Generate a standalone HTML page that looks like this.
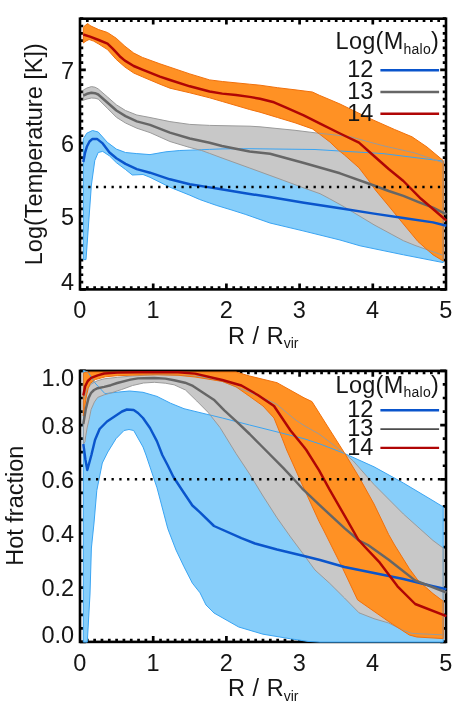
<!DOCTYPE html>
<html><head><meta charset="utf-8"><title>Halo profiles</title>
<style>html,body{margin:0;padding:0;background:#fff}body{width:458px;height:704px;overflow:hidden;font-family:"Liberation Sans",sans-serif}svg{display:block;filter:blur(0.6px)}</style></head>
<body>
<svg width="458" height="704" viewBox="0 0 458 704" font-family="'Liberation Sans', sans-serif" fill="#151515">
<rect width="458" height="704" fill="#fff"/>
<rect x="80.0" y="18.7" width="366.0" height="270.7" fill="none" stroke="#000" stroke-width="2.6"/>
<path d="M153.20,289.4v-5.8M153.20,18.7v5.8" stroke="#000" stroke-width="2.7"/>
<path d="M226.40,289.4v-5.8M226.40,18.7v5.8" stroke="#000" stroke-width="2.7"/>
<path d="M299.60,289.4v-5.8M299.60,18.7v5.8" stroke="#000" stroke-width="2.7"/>
<path d="M372.80,289.4v-5.8M372.80,18.7v5.8" stroke="#000" stroke-width="2.7"/>
<path d="M87.32,289.4v-3.25M87.32,18.7v3.25" stroke="#000" stroke-width="2.7"/>
<path d="M94.64,289.4v-3.25M94.64,18.7v3.25" stroke="#000" stroke-width="2.7"/>
<path d="M101.96,289.4v-3.25M101.96,18.7v3.25" stroke="#000" stroke-width="2.7"/>
<path d="M109.28,289.4v-3.25M109.28,18.7v3.25" stroke="#000" stroke-width="2.7"/>
<path d="M116.60,289.4v-3.25M116.60,18.7v3.25" stroke="#000" stroke-width="2.7"/>
<path d="M123.92,289.4v-3.25M123.92,18.7v3.25" stroke="#000" stroke-width="2.7"/>
<path d="M131.24,289.4v-3.25M131.24,18.7v3.25" stroke="#000" stroke-width="2.7"/>
<path d="M138.56,289.4v-3.25M138.56,18.7v3.25" stroke="#000" stroke-width="2.7"/>
<path d="M145.88,289.4v-3.25M145.88,18.7v3.25" stroke="#000" stroke-width="2.7"/>
<path d="M160.52,289.4v-3.25M160.52,18.7v3.25" stroke="#000" stroke-width="2.7"/>
<path d="M167.84,289.4v-3.25M167.84,18.7v3.25" stroke="#000" stroke-width="2.7"/>
<path d="M175.16,289.4v-3.25M175.16,18.7v3.25" stroke="#000" stroke-width="2.7"/>
<path d="M182.48,289.4v-3.25M182.48,18.7v3.25" stroke="#000" stroke-width="2.7"/>
<path d="M189.80,289.4v-3.25M189.80,18.7v3.25" stroke="#000" stroke-width="2.7"/>
<path d="M197.12,289.4v-3.25M197.12,18.7v3.25" stroke="#000" stroke-width="2.7"/>
<path d="M204.44,289.4v-3.25M204.44,18.7v3.25" stroke="#000" stroke-width="2.7"/>
<path d="M211.76,289.4v-3.25M211.76,18.7v3.25" stroke="#000" stroke-width="2.7"/>
<path d="M219.08,289.4v-3.25M219.08,18.7v3.25" stroke="#000" stroke-width="2.7"/>
<path d="M233.72,289.4v-3.25M233.72,18.7v3.25" stroke="#000" stroke-width="2.7"/>
<path d="M241.04,289.4v-3.25M241.04,18.7v3.25" stroke="#000" stroke-width="2.7"/>
<path d="M248.36,289.4v-3.25M248.36,18.7v3.25" stroke="#000" stroke-width="2.7"/>
<path d="M255.68,289.4v-3.25M255.68,18.7v3.25" stroke="#000" stroke-width="2.7"/>
<path d="M263.00,289.4v-3.25M263.00,18.7v3.25" stroke="#000" stroke-width="2.7"/>
<path d="M270.32,289.4v-3.25M270.32,18.7v3.25" stroke="#000" stroke-width="2.7"/>
<path d="M277.64,289.4v-3.25M277.64,18.7v3.25" stroke="#000" stroke-width="2.7"/>
<path d="M284.96,289.4v-3.25M284.96,18.7v3.25" stroke="#000" stroke-width="2.7"/>
<path d="M292.28,289.4v-3.25M292.28,18.7v3.25" stroke="#000" stroke-width="2.7"/>
<path d="M306.92,289.4v-3.25M306.92,18.7v3.25" stroke="#000" stroke-width="2.7"/>
<path d="M314.24,289.4v-3.25M314.24,18.7v3.25" stroke="#000" stroke-width="2.7"/>
<path d="M321.56,289.4v-3.25M321.56,18.7v3.25" stroke="#000" stroke-width="2.7"/>
<path d="M328.88,289.4v-3.25M328.88,18.7v3.25" stroke="#000" stroke-width="2.7"/>
<path d="M336.20,289.4v-3.25M336.20,18.7v3.25" stroke="#000" stroke-width="2.7"/>
<path d="M343.52,289.4v-3.25M343.52,18.7v3.25" stroke="#000" stroke-width="2.7"/>
<path d="M350.84,289.4v-3.25M350.84,18.7v3.25" stroke="#000" stroke-width="2.7"/>
<path d="M358.16,289.4v-3.25M358.16,18.7v3.25" stroke="#000" stroke-width="2.7"/>
<path d="M365.48,289.4v-3.25M365.48,18.7v3.25" stroke="#000" stroke-width="2.7"/>
<path d="M380.12,289.4v-3.25M380.12,18.7v3.25" stroke="#000" stroke-width="2.7"/>
<path d="M387.44,289.4v-3.25M387.44,18.7v3.25" stroke="#000" stroke-width="2.7"/>
<path d="M394.76,289.4v-3.25M394.76,18.7v3.25" stroke="#000" stroke-width="2.7"/>
<path d="M402.08,289.4v-3.25M402.08,18.7v3.25" stroke="#000" stroke-width="2.7"/>
<path d="M409.40,289.4v-3.25M409.40,18.7v3.25" stroke="#000" stroke-width="2.7"/>
<path d="M416.72,289.4v-3.25M416.72,18.7v3.25" stroke="#000" stroke-width="2.7"/>
<path d="M424.04,289.4v-3.25M424.04,18.7v3.25" stroke="#000" stroke-width="2.7"/>
<path d="M431.36,289.4v-3.25M431.36,18.7v3.25" stroke="#000" stroke-width="2.7"/>
<path d="M438.68,289.4v-3.25M438.68,18.7v3.25" stroke="#000" stroke-width="2.7"/>
<path d="M80.0,289.40h5.8M446.0,289.40h-5.8" stroke="#000" stroke-width="2.7"/>
<path d="M80.0,216.24h5.8M446.0,216.24h-5.8" stroke="#000" stroke-width="2.7"/>
<path d="M80.0,143.08h5.8M446.0,143.08h-5.8" stroke="#000" stroke-width="2.7"/>
<path d="M80.0,69.91h5.8M446.0,69.91h-5.8" stroke="#000" stroke-width="2.7"/>
<path d="M80.0,282.08h3.25M446.0,282.08h-3.25" stroke="#000" stroke-width="2.7"/>
<path d="M80.0,274.77h3.25M446.0,274.77h-3.25" stroke="#000" stroke-width="2.7"/>
<path d="M80.0,267.45h3.25M446.0,267.45h-3.25" stroke="#000" stroke-width="2.7"/>
<path d="M80.0,260.14h3.25M446.0,260.14h-3.25" stroke="#000" stroke-width="2.7"/>
<path d="M80.0,252.82h3.25M446.0,252.82h-3.25" stroke="#000" stroke-width="2.7"/>
<path d="M80.0,245.50h3.25M446.0,245.50h-3.25" stroke="#000" stroke-width="2.7"/>
<path d="M80.0,238.19h3.25M446.0,238.19h-3.25" stroke="#000" stroke-width="2.7"/>
<path d="M80.0,230.87h3.25M446.0,230.87h-3.25" stroke="#000" stroke-width="2.7"/>
<path d="M80.0,223.55h3.25M446.0,223.55h-3.25" stroke="#000" stroke-width="2.7"/>
<path d="M80.0,208.92h3.25M446.0,208.92h-3.25" stroke="#000" stroke-width="2.7"/>
<path d="M80.0,201.61h3.25M446.0,201.61h-3.25" stroke="#000" stroke-width="2.7"/>
<path d="M80.0,194.29h3.25M446.0,194.29h-3.25" stroke="#000" stroke-width="2.7"/>
<path d="M80.0,186.97h3.25M446.0,186.97h-3.25" stroke="#000" stroke-width="2.7"/>
<path d="M80.0,179.66h3.25M446.0,179.66h-3.25" stroke="#000" stroke-width="2.7"/>
<path d="M80.0,172.34h3.25M446.0,172.34h-3.25" stroke="#000" stroke-width="2.7"/>
<path d="M80.0,165.02h3.25M446.0,165.02h-3.25" stroke="#000" stroke-width="2.7"/>
<path d="M80.0,157.71h3.25M446.0,157.71h-3.25" stroke="#000" stroke-width="2.7"/>
<path d="M80.0,150.39h3.25M446.0,150.39h-3.25" stroke="#000" stroke-width="2.7"/>
<path d="M80.0,135.76h3.25M446.0,135.76h-3.25" stroke="#000" stroke-width="2.7"/>
<path d="M80.0,128.44h3.25M446.0,128.44h-3.25" stroke="#000" stroke-width="2.7"/>
<path d="M80.0,121.13h3.25M446.0,121.13h-3.25" stroke="#000" stroke-width="2.7"/>
<path d="M80.0,113.81h3.25M446.0,113.81h-3.25" stroke="#000" stroke-width="2.7"/>
<path d="M80.0,106.49h3.25M446.0,106.49h-3.25" stroke="#000" stroke-width="2.7"/>
<path d="M80.0,99.18h3.25M446.0,99.18h-3.25" stroke="#000" stroke-width="2.7"/>
<path d="M80.0,91.86h3.25M446.0,91.86h-3.25" stroke="#000" stroke-width="2.7"/>
<path d="M80.0,84.55h3.25M446.0,84.55h-3.25" stroke="#000" stroke-width="2.7"/>
<path d="M80.0,77.23h3.25M446.0,77.23h-3.25" stroke="#000" stroke-width="2.7"/>
<path d="M80.0,62.60h3.25M446.0,62.60h-3.25" stroke="#000" stroke-width="2.7"/>
<path d="M80.0,55.28h3.25M446.0,55.28h-3.25" stroke="#000" stroke-width="2.7"/>
<path d="M80.0,47.96h3.25M446.0,47.96h-3.25" stroke="#000" stroke-width="2.7"/>
<path d="M80.0,40.65h3.25M446.0,40.65h-3.25" stroke="#000" stroke-width="2.7"/>
<path d="M80.0,33.33h3.25M446.0,33.33h-3.25" stroke="#000" stroke-width="2.7"/>
<path d="M80.0,26.02h3.25M446.0,26.02h-3.25" stroke="#000" stroke-width="2.7"/>
<path d="M80.0,18.70h3.25M446.0,18.70h-3.25" stroke="#000" stroke-width="2.7"/>
<clipPath id="c1"><rect x="80.0" y="17.4" width="367.3" height="273.3"/></clipPath>
<g clip-path="url(#c1)">
<polygon points="83.3,138.9 86.8,133.2 92.5,130.5 98.2,132.0 107.3,142.3 116.4,149.1 125.5,152.5 136.8,153.6 150.0,154.6 165.9,151.8 179.8,150.5 201.7,149.7 209.6,149.4 222.0,148.9 250.0,148.7 315.0,149.5 383.0,153.6 443.2,161.1 443.2,262.6 403.4,254.8 360.0,245.8 340.0,240.0 304.0,231.1 270.0,223.0 245.2,214.3 231.0,209.8 216.8,205.5 209.6,203.0 199.7,199.5 189.8,195.2 169.9,187.2 150.0,177.3 143.0,174.5 132.3,175.0 125.5,169.5 116.4,162.7 109.5,155.9 102.7,151.4 98.2,152.5 94.8,160.5 91.4,185.0 88.5,225.0 86.0,259.6 83.3,259.6" fill="#87cefa"/>
<polygon points="83.3,90.0 87.0,88.0 91.4,86.6 95.0,87.2 98.2,88.9 107.3,96.8 116.4,104.8 125.5,110.5 136.8,115.0 150.0,117.5 169.9,121.6 189.8,124.4 209.6,125.4 250.0,126.2 260.0,126.8 295.0,130.3 315.9,132.9 340.0,135.5 350.4,136.8 383.0,145.7 415.0,153.0 443.2,162.8 443.2,255.4 415.0,245.4 403.4,240.7 374.0,224.8 344.5,207.0 329.7,198.8 320.0,193.7 304.0,188.0 277.0,178.0 249.6,168.0 222.0,158.0 209.6,153.4 201.7,150.5 189.8,147.5 169.9,141.5 150.0,132.6 136.8,128.2 125.5,123.0 116.4,117.3 107.3,108.2 98.2,99.1 95.0,98.2 91.4,98.0 87.0,99.0 83.3,100.2" fill="#c8c8c8"/>
<polygon points="83.3,27.5 85.5,25.0 88.0,23.6 90.0,25.6 98.7,29.6 107.5,32.5 116.2,38.2 124.9,46.2 133.7,53.0 142.4,57.4 159.9,63.8 170.0,67.2 189.8,73.9 209.6,79.9 222.3,81.5 249.6,84.2 260.0,85.2 277.5,87.7 295.0,89.8 312.4,92.0 319.4,95.3 329.9,99.7 340.0,104.0 368.0,117.7 394.6,129.5 412.0,136.8 427.0,147.0 443.2,160.5 443.2,260.9 433.0,254.8 418.0,241.6 403.4,224.0 388.7,206.0 375.4,190.0 368.0,179.6 359.0,167.8 344.5,155.0 338.6,150.3 329.9,142.0 319.4,134.0 312.4,128.9 295.0,122.8 277.5,117.5 260.0,112.2 249.6,109.5 222.3,101.5 209.6,97.8 189.8,92.8 170.0,88.2 159.9,84.2 142.4,76.8 133.7,73.0 124.9,67.0 116.2,59.4 107.5,49.6 98.7,44.0 93.6,41.1 89.1,39.5 86.0,41.0 83.3,43.0" fill="#ff9124"/>
<polygon points="83.3,138.9 86.8,133.2 92.5,130.5 98.2,132.0 107.3,142.3 116.4,149.1 125.5,152.5 136.8,153.6 150.0,154.6 165.9,151.8 179.8,150.5 201.7,149.7 209.6,149.4 222.0,148.9 250.0,148.7 315.0,149.5 383.0,153.6 443.2,161.1 443.2,262.6 403.4,254.8 360.0,245.8 340.0,240.0 304.0,231.1 270.0,223.0 245.2,214.3 231.0,209.8 216.8,205.5 209.6,203.0 199.7,199.5 189.8,195.2 169.9,187.2 150.0,177.3 143.0,174.5 132.3,175.0 125.5,169.5 116.4,162.7 109.5,155.9 102.7,151.4 98.2,152.5 94.8,160.5 91.4,185.0 88.5,225.0 86.0,259.6 83.3,259.6" fill="none" stroke="#3aa4f2" stroke-width="1.0" stroke-linejoin="round"/>
<polygon points="83.3,90.0 87.0,88.0 91.4,86.6 95.0,87.2 98.2,88.9 107.3,96.8 116.4,104.8 125.5,110.5 136.8,115.0 150.0,117.5 169.9,121.6 189.8,124.4 209.6,125.4 250.0,126.2 260.0,126.8 295.0,130.3 315.9,132.9 340.0,135.5 350.4,136.8 383.0,145.7 415.0,153.0 443.2,162.8 443.2,255.4 415.0,245.4 403.4,240.7 374.0,224.8 344.5,207.0 329.7,198.8 320.0,193.7 304.0,188.0 277.0,178.0 249.6,168.0 222.0,158.0 209.6,153.4 201.7,150.5 189.8,147.5 169.9,141.5 150.0,132.6 136.8,128.2 125.5,123.0 116.4,117.3 107.3,108.2 98.2,99.1 95.0,98.2 91.4,98.0 87.0,99.0 83.3,100.2" fill="none" stroke="#9a9a9a" stroke-width="1.0" stroke-linejoin="round"/>
<polygon points="83.3,27.5 85.5,25.0 88.0,23.6 90.0,25.6 98.7,29.6 107.5,32.5 116.2,38.2 124.9,46.2 133.7,53.0 142.4,57.4 159.9,63.8 170.0,67.2 189.8,73.9 209.6,79.9 222.3,81.5 249.6,84.2 260.0,85.2 277.5,87.7 295.0,89.8 312.4,92.0 319.4,95.3 329.9,99.7 340.0,104.0 368.0,117.7 394.6,129.5 412.0,136.8 427.0,147.0 443.2,160.5 443.2,260.9 433.0,254.8 418.0,241.6 403.4,224.0 388.7,206.0 375.4,190.0 368.0,179.6 359.0,167.8 344.5,155.0 338.6,150.3 329.9,142.0 319.4,134.0 312.4,128.9 295.0,122.8 277.5,117.5 260.0,112.2 249.6,109.5 222.3,101.5 209.6,97.8 189.8,92.8 170.0,88.2 159.9,84.2 142.4,76.8 133.7,73.0 124.9,67.0 116.2,59.4 107.5,49.6 98.7,44.0 93.6,41.1 89.1,39.5 86.0,41.0 83.3,43.0" fill="none" stroke="#f0700c" stroke-width="1.0" stroke-linejoin="round"/>
<polyline points="83.3,162.0 85.0,153.0 86.8,146.8 89.5,141.5 92.5,138.9 97.0,138.9 102.7,143.4 109.5,152.5 116.4,158.2 125.5,163.9 136.8,169.1 150.0,172.7 169.9,179.3 189.8,184.3 209.6,187.4 216.8,188.5 245.2,193.3 270.0,197.0 304.0,202.7 340.0,208.2 374.0,213.6 403.4,218.0 433.0,222.4 446.4,225.8" fill="none" stroke="#0a55cc" stroke-width="2.45" stroke-linejoin="round"/>
<polyline points="83.3,95.7 87.0,93.8 91.4,92.7 95.0,93.2 98.2,94.5 107.3,102.5 116.4,110.5 125.5,116.1 136.8,121.4 150.0,124.9 169.9,132.6 189.8,138.5 209.6,142.8 222.0,146.0 249.6,151.5 270.0,153.8 304.0,163.0 340.0,173.3 374.0,185.5 388.7,191.0 403.4,195.9 418.0,201.8 433.0,207.7 446.4,214.3" fill="none" stroke="#666666" stroke-width="2.45" stroke-linejoin="round"/>
<polyline points="83.3,34.5 90.0,36.6 98.7,40.0 107.5,43.6 112.7,48.6 119.7,56.2 124.9,60.6 133.7,66.0 142.4,69.6 159.9,76.6 170.0,80.0 189.8,86.3 209.6,91.5 222.3,93.6 236.0,95.0 249.6,96.9 260.0,98.8 274.0,102.3 286.2,107.6 303.7,115.4 321.1,124.1 340.0,133.5 359.0,142.7 374.0,156.0 388.7,169.0 403.4,181.0 421.0,198.8 433.0,209.0 446.4,220.7" fill="none" stroke="#b00505" stroke-width="2.45" stroke-linejoin="round"/>
<line x1="88.2" x2="444.0" y1="186.97" y2="186.97" stroke="#000" stroke-width="2.4" stroke-dasharray="2.3 5.47"/>
</g>
<rect x="80.0" y="370.9" width="366.0" height="271.0" fill="none" stroke="#000" stroke-width="2.6"/>
<path d="M153.20,641.9v-5.8M153.20,370.9v5.8" stroke="#000" stroke-width="2.7"/>
<path d="M226.40,641.9v-5.8M226.40,370.9v5.8" stroke="#000" stroke-width="2.7"/>
<path d="M299.60,641.9v-5.8M299.60,370.9v5.8" stroke="#000" stroke-width="2.7"/>
<path d="M372.80,641.9v-5.8M372.80,370.9v5.8" stroke="#000" stroke-width="2.7"/>
<path d="M87.32,641.9v-3.25M87.32,370.9v3.25" stroke="#000" stroke-width="2.7"/>
<path d="M94.64,641.9v-3.25M94.64,370.9v3.25" stroke="#000" stroke-width="2.7"/>
<path d="M101.96,641.9v-3.25M101.96,370.9v3.25" stroke="#000" stroke-width="2.7"/>
<path d="M109.28,641.9v-3.25M109.28,370.9v3.25" stroke="#000" stroke-width="2.7"/>
<path d="M116.60,641.9v-3.25M116.60,370.9v3.25" stroke="#000" stroke-width="2.7"/>
<path d="M123.92,641.9v-3.25M123.92,370.9v3.25" stroke="#000" stroke-width="2.7"/>
<path d="M131.24,641.9v-3.25M131.24,370.9v3.25" stroke="#000" stroke-width="2.7"/>
<path d="M138.56,641.9v-3.25M138.56,370.9v3.25" stroke="#000" stroke-width="2.7"/>
<path d="M145.88,641.9v-3.25M145.88,370.9v3.25" stroke="#000" stroke-width="2.7"/>
<path d="M160.52,641.9v-3.25M160.52,370.9v3.25" stroke="#000" stroke-width="2.7"/>
<path d="M167.84,641.9v-3.25M167.84,370.9v3.25" stroke="#000" stroke-width="2.7"/>
<path d="M175.16,641.9v-3.25M175.16,370.9v3.25" stroke="#000" stroke-width="2.7"/>
<path d="M182.48,641.9v-3.25M182.48,370.9v3.25" stroke="#000" stroke-width="2.7"/>
<path d="M189.80,641.9v-3.25M189.80,370.9v3.25" stroke="#000" stroke-width="2.7"/>
<path d="M197.12,641.9v-3.25M197.12,370.9v3.25" stroke="#000" stroke-width="2.7"/>
<path d="M204.44,641.9v-3.25M204.44,370.9v3.25" stroke="#000" stroke-width="2.7"/>
<path d="M211.76,641.9v-3.25M211.76,370.9v3.25" stroke="#000" stroke-width="2.7"/>
<path d="M219.08,641.9v-3.25M219.08,370.9v3.25" stroke="#000" stroke-width="2.7"/>
<path d="M233.72,641.9v-3.25M233.72,370.9v3.25" stroke="#000" stroke-width="2.7"/>
<path d="M241.04,641.9v-3.25M241.04,370.9v3.25" stroke="#000" stroke-width="2.7"/>
<path d="M248.36,641.9v-3.25M248.36,370.9v3.25" stroke="#000" stroke-width="2.7"/>
<path d="M255.68,641.9v-3.25M255.68,370.9v3.25" stroke="#000" stroke-width="2.7"/>
<path d="M263.00,641.9v-3.25M263.00,370.9v3.25" stroke="#000" stroke-width="2.7"/>
<path d="M270.32,641.9v-3.25M270.32,370.9v3.25" stroke="#000" stroke-width="2.7"/>
<path d="M277.64,641.9v-3.25M277.64,370.9v3.25" stroke="#000" stroke-width="2.7"/>
<path d="M284.96,641.9v-3.25M284.96,370.9v3.25" stroke="#000" stroke-width="2.7"/>
<path d="M292.28,641.9v-3.25M292.28,370.9v3.25" stroke="#000" stroke-width="2.7"/>
<path d="M306.92,641.9v-3.25M306.92,370.9v3.25" stroke="#000" stroke-width="2.7"/>
<path d="M314.24,641.9v-3.25M314.24,370.9v3.25" stroke="#000" stroke-width="2.7"/>
<path d="M321.56,641.9v-3.25M321.56,370.9v3.25" stroke="#000" stroke-width="2.7"/>
<path d="M328.88,641.9v-3.25M328.88,370.9v3.25" stroke="#000" stroke-width="2.7"/>
<path d="M336.20,641.9v-3.25M336.20,370.9v3.25" stroke="#000" stroke-width="2.7"/>
<path d="M343.52,641.9v-3.25M343.52,370.9v3.25" stroke="#000" stroke-width="2.7"/>
<path d="M350.84,641.9v-3.25M350.84,370.9v3.25" stroke="#000" stroke-width="2.7"/>
<path d="M358.16,641.9v-3.25M358.16,370.9v3.25" stroke="#000" stroke-width="2.7"/>
<path d="M365.48,641.9v-3.25M365.48,370.9v3.25" stroke="#000" stroke-width="2.7"/>
<path d="M380.12,641.9v-3.25M380.12,370.9v3.25" stroke="#000" stroke-width="2.7"/>
<path d="M387.44,641.9v-3.25M387.44,370.9v3.25" stroke="#000" stroke-width="2.7"/>
<path d="M394.76,641.9v-3.25M394.76,370.9v3.25" stroke="#000" stroke-width="2.7"/>
<path d="M402.08,641.9v-3.25M402.08,370.9v3.25" stroke="#000" stroke-width="2.7"/>
<path d="M409.40,641.9v-3.25M409.40,370.9v3.25" stroke="#000" stroke-width="2.7"/>
<path d="M416.72,641.9v-3.25M416.72,370.9v3.25" stroke="#000" stroke-width="2.7"/>
<path d="M424.04,641.9v-3.25M424.04,370.9v3.25" stroke="#000" stroke-width="2.7"/>
<path d="M431.36,641.9v-3.25M431.36,370.9v3.25" stroke="#000" stroke-width="2.7"/>
<path d="M438.68,641.9v-3.25M438.68,370.9v3.25" stroke="#000" stroke-width="2.7"/>
<path d="M80.0,641.90h5.8M446.0,641.90h-5.8" stroke="#000" stroke-width="2.7"/>
<path d="M80.0,587.70h5.8M446.0,587.70h-5.8" stroke="#000" stroke-width="2.7"/>
<path d="M80.0,533.50h5.8M446.0,533.50h-5.8" stroke="#000" stroke-width="2.7"/>
<path d="M80.0,479.30h5.8M446.0,479.30h-5.8" stroke="#000" stroke-width="2.7"/>
<path d="M80.0,425.10h5.8M446.0,425.10h-5.8" stroke="#000" stroke-width="2.7"/>
<path d="M80.0,370.90h5.8M446.0,370.90h-5.8" stroke="#000" stroke-width="2.7"/>
<path d="M80.0,628.35h3.25M446.0,628.35h-3.25" stroke="#000" stroke-width="2.7"/>
<path d="M80.0,614.80h3.25M446.0,614.80h-3.25" stroke="#000" stroke-width="2.7"/>
<path d="M80.0,601.25h3.25M446.0,601.25h-3.25" stroke="#000" stroke-width="2.7"/>
<path d="M80.0,574.15h3.25M446.0,574.15h-3.25" stroke="#000" stroke-width="2.7"/>
<path d="M80.0,560.60h3.25M446.0,560.60h-3.25" stroke="#000" stroke-width="2.7"/>
<path d="M80.0,547.05h3.25M446.0,547.05h-3.25" stroke="#000" stroke-width="2.7"/>
<path d="M80.0,519.95h3.25M446.0,519.95h-3.25" stroke="#000" stroke-width="2.7"/>
<path d="M80.0,506.40h3.25M446.0,506.40h-3.25" stroke="#000" stroke-width="2.7"/>
<path d="M80.0,492.85h3.25M446.0,492.85h-3.25" stroke="#000" stroke-width="2.7"/>
<path d="M80.0,465.75h3.25M446.0,465.75h-3.25" stroke="#000" stroke-width="2.7"/>
<path d="M80.0,452.20h3.25M446.0,452.20h-3.25" stroke="#000" stroke-width="2.7"/>
<path d="M80.0,438.65h3.25M446.0,438.65h-3.25" stroke="#000" stroke-width="2.7"/>
<path d="M80.0,411.55h3.25M446.0,411.55h-3.25" stroke="#000" stroke-width="2.7"/>
<path d="M80.0,398.00h3.25M446.0,398.00h-3.25" stroke="#000" stroke-width="2.7"/>
<path d="M80.0,384.45h3.25M446.0,384.45h-3.25" stroke="#000" stroke-width="2.7"/>
<clipPath id="c2"><rect x="80.0" y="369.59999999999997" width="367.3" height="273.6"/></clipPath>
<g clip-path="url(#c2)">
<polygon points="83.3,370.4 88.0,372.0 95.0,383.0 105.0,393.7 116.0,392.3 129.6,391.0 143.0,392.3 157.0,396.4 170.5,403.2 184.0,408.7 195.0,411.4 222.3,418.0 249.6,425.0 277.0,431.9 304.0,438.7 320.0,444.0 344.5,453.5 374.0,466.8 403.4,483.0 433.0,500.7 443.2,506.9 443.2,642.1 320.0,642.1 308.0,641.4 290.5,638.8 263.0,634.2 238.7,627.0 214.0,613.0 206.0,605.0 200.0,592.8 192.4,583.2 184.0,566.8 176.0,550.0 167.8,528.7 157.0,487.8 146.0,455.0 143.0,447.0 133.7,430.5 129.0,429.5 124.0,430.5 116.0,438.7 107.8,452.0 102.3,463.0 96.8,490.5 94.0,523.0 91.4,548.0 90.0,594.0 87.3,642.1 83.3,642.1" fill="#87cefa"/>
<polygon points="83.3,401.0 84.6,396.8 87.2,389.2 91.1,384.0 97.7,380.6 104.2,378.8 117.3,377.3 132.6,376.0 157.0,374.5 170.5,375.0 200.0,376.5 222.3,381.4 236.0,386.8 263.0,397.8 277.0,404.5 295.0,419.5 304.0,425.5 320.0,434.6 344.5,453.4 353.3,461.0 374.0,484.5 403.4,514.0 433.0,540.5 443.2,548.1 443.2,634.9 412.0,633.4 403.4,630.5 388.7,623.0 374.0,618.7 359.0,612.8 344.5,598.0 329.7,583.3 315.0,570.0 304.0,555.0 290.5,536.9 277.0,517.8 263.0,496.0 249.6,474.0 236.0,453.5 220.0,427.5 208.2,412.5 196.8,401.0 185.5,390.0 174.1,384.8 165.3,383.2 154.4,382.3 143.5,383.0 132.6,385.5 121.7,389.5 110.8,393.0 104.2,394.8 97.7,397.4 94.4,402.0 91.1,409.5 89.1,419.5 87.1,427.9 85.8,435.7 84.9,442.0 83.3,444.0" fill="#c8c8c8"/>
<polygon points="83.3,373.1 86.0,372.2 89.8,372.0 236.0,372.0 249.6,376.0 277.0,382.7 304.0,397.8 312.0,401.6 328.0,427.0 344.5,453.0 359.0,477.0 374.0,504.0 388.7,534.6 394.6,545.0 409.3,568.6 418.0,580.4 433.0,593.6 443.2,601.2 443.2,638.6 416.7,637.0 409.3,635.0 388.7,621.6 357.6,599.9 342.7,568.4 323.5,530.0 319.1,521.6 302.0,484.1 286.7,450.0 282.3,438.7 274.0,418.0 263.0,406.0 249.6,396.4 236.0,386.8 222.3,381.4 195.0,377.0 178.0,375.2 157.0,374.8 138.0,375.0 117.3,375.7 105.5,376.8 95.3,379.6 90.2,383.5 88.2,388.5 86.4,396.0 84.8,406.0 83.3,416.0" fill="#ff9124"/>
<polygon points="83.3,370.4 88.0,372.0 95.0,383.0 105.0,393.7 116.0,392.3 129.6,391.0 143.0,392.3 157.0,396.4 170.5,403.2 184.0,408.7 195.0,411.4 222.3,418.0 249.6,425.0 277.0,431.9 304.0,438.7 320.0,444.0 344.5,453.5 374.0,466.8 403.4,483.0 433.0,500.7 443.2,506.9 443.2,642.1 320.0,642.1 308.0,641.4 290.5,638.8 263.0,634.2 238.7,627.0 214.0,613.0 206.0,605.0 200.0,592.8 192.4,583.2 184.0,566.8 176.0,550.0 167.8,528.7 157.0,487.8 146.0,455.0 143.0,447.0 133.7,430.5 129.0,429.5 124.0,430.5 116.0,438.7 107.8,452.0 102.3,463.0 96.8,490.5 94.0,523.0 91.4,548.0 90.0,594.0 87.3,642.1 83.3,642.1" fill="none" stroke="#3aa4f2" stroke-width="1.0" stroke-linejoin="round"/>
<polygon points="83.3,401.0 84.6,396.8 87.2,389.2 91.1,384.0 97.7,380.6 104.2,378.8 117.3,377.3 132.6,376.0 157.0,374.5 170.5,375.0 200.0,376.5 222.3,381.4 236.0,386.8 263.0,397.8 277.0,404.5 295.0,419.5 304.0,425.5 320.0,434.6 344.5,453.4 353.3,461.0 374.0,484.5 403.4,514.0 433.0,540.5 443.2,548.1 443.2,634.9 412.0,633.4 403.4,630.5 388.7,623.0 374.0,618.7 359.0,612.8 344.5,598.0 329.7,583.3 315.0,570.0 304.0,555.0 290.5,536.9 277.0,517.8 263.0,496.0 249.6,474.0 236.0,453.5 220.0,427.5 208.2,412.5 196.8,401.0 185.5,390.0 174.1,384.8 165.3,383.2 154.4,382.3 143.5,383.0 132.6,385.5 121.7,389.5 110.8,393.0 104.2,394.8 97.7,397.4 94.4,402.0 91.1,409.5 89.1,419.5 87.1,427.9 85.8,435.7 84.9,442.0 83.3,444.0" fill="none" stroke="#9a9a9a" stroke-width="1.0" stroke-linejoin="round"/>
<polygon points="83.3,373.1 86.0,372.2 89.8,372.0 236.0,372.0 249.6,376.0 277.0,382.7 304.0,397.8 312.0,401.6 328.0,427.0 344.5,453.0 359.0,477.0 374.0,504.0 388.7,534.6 394.6,545.0 409.3,568.6 418.0,580.4 433.0,593.6 443.2,601.2 443.2,638.6 416.7,637.0 409.3,635.0 388.7,621.6 357.6,599.9 342.7,568.4 323.5,530.0 319.1,521.6 302.0,484.1 286.7,450.0 282.3,438.7 274.0,418.0 263.0,406.0 249.6,396.4 236.0,386.8 222.3,381.4 195.0,377.0 178.0,375.2 157.0,374.8 138.0,375.0 117.3,375.7 105.5,376.8 95.3,379.6 90.2,383.5 88.2,388.5 86.4,396.0 84.8,406.0 83.3,416.0" fill="none" stroke="#f0700c" stroke-width="1.0" stroke-linejoin="round"/>
<polyline points="83.3,444.0 85.5,460.0 87.3,470.0 89.5,462.0 91.4,455.0 95.0,440.0 99.6,429.0 107.0,421.5 116.0,415.5 122.0,411.5 126.9,409.5 133.7,410.0 138.0,413.0 143.0,418.0 150.0,428.0 157.0,441.4 162.3,455.0 167.8,465.5 173.3,476.8 184.0,493.0 192.4,505.5 200.0,512.3 214.0,526.0 241.4,538.2 255.0,543.5 277.0,549.5 304.0,556.0 320.0,560.0 344.5,567.0 374.0,573.0 403.4,579.0 433.0,586.3 446.4,589.3" fill="none" stroke="#0a55cc" stroke-width="2.45" stroke-linejoin="round"/>
<polyline points="83.3,424.0 84.8,415.0 85.9,408.6 88.5,398.1 91.1,392.8 94.0,390.0 97.7,388.2 104.2,386.9 110.8,385.2 117.3,383.0 130.4,379.6 138.0,378.4 143.5,378.2 154.4,378.0 165.3,378.6 174.1,380.3 185.0,382.7 192.9,385.9 202.0,392.0 213.8,399.7 224.3,410.4 237.4,422.4 249.6,434.0 260.5,445.0 283.2,467.8 295.0,480.5 302.0,488.3 319.1,504.7 345.0,528.6 359.0,540.5 368.0,545.0 388.7,559.7 415.0,580.4 446.4,592.5" fill="none" stroke="#666666" stroke-width="2.45" stroke-linejoin="round"/>
<polyline points="83.3,395.5 85.2,386.3 87.8,381.0 91.1,377.9 97.7,375.4 104.2,373.5 117.3,372.6 138.0,372.2 178.0,372.2 195.0,373.6 222.3,380.0 241.4,385.5 257.8,395.0 274.0,406.0 290.5,430.5 304.0,447.0 306.3,450.0 319.1,470.4 329.3,489.2 345.0,516.4 358.2,539.5 365.0,547.0 379.8,562.7 397.5,586.3 415.2,604.0 446.4,616.2" fill="none" stroke="#b00505" stroke-width="2.45" stroke-linejoin="round"/>
<line x1="88.2" x2="444.0" y1="479.30" y2="479.30" stroke="#000" stroke-width="2.4" stroke-dasharray="2.3 5.47"/>
</g>
<line x1="380.4" x2="439.1" y1="70.2" y2="70.2" stroke="#0a55cc" stroke-width="2.4"/>
<line x1="380.4" x2="439.1" y1="92.0" y2="92.0" stroke="#666666" stroke-width="2.4"/>
<line x1="380.4" x2="439.1" y1="113.8" y2="113.8" stroke="#b00505" stroke-width="2.4"/>
<line x1="380.4" x2="439.1" y1="410.2" y2="410.2" stroke="#0a55cc" stroke-width="2.4"/>
<line x1="380.4" x2="439.1" y1="429.1" y2="429.1" stroke="#4c4c4c" stroke-width="1.7"/>
<line x1="380.4" x2="439.1" y1="447.9" y2="447.9" stroke="#b00505" stroke-width="2.4"/>
<g style="will-change:transform;filter:grayscale(1)">
<text x="74.2" y="290.3" font-size="23.5" text-anchor="end">4</text>
<text x="74.2" y="224.8" font-size="23.5" text-anchor="end">5</text>
<text x="74.2" y="151.7" font-size="23.5" text-anchor="end">6</text>
<text x="74.2" y="78.5" font-size="23.5" text-anchor="end">7</text>
<text x="74.2" y="642.8" font-size="23.5" text-anchor="end">0.0</text>
<text x="74.2" y="596.3" font-size="23.5" text-anchor="end">0.2</text>
<text x="74.2" y="542.1" font-size="23.5" text-anchor="end">0.4</text>
<text x="74.2" y="487.9" font-size="23.5" text-anchor="end">0.6</text>
<text x="74.2" y="433.7" font-size="23.5" text-anchor="end">0.8</text>
<text x="74.2" y="385.7" font-size="23.5" text-anchor="end">1.0</text>
<text x="79.8" y="318.0" font-size="23.5" text-anchor="middle">0</text>
<text x="153.0" y="318.0" font-size="23.5" text-anchor="middle">1</text>
<text x="226.2" y="318.0" font-size="23.5" text-anchor="middle">2</text>
<text x="299.4" y="318.0" font-size="23.5" text-anchor="middle">3</text>
<text x="372.6" y="318.0" font-size="23.5" text-anchor="middle">4</text>
<text x="445.8" y="318.0" font-size="23.5" text-anchor="middle">5</text>
<text x="228.0" y="343.7" font-size="23.5" word-spacing="1.1">R / R<tspan font-size="14" dy="4.6">vir</tspan></text>
<text x="79.8" y="670.5" font-size="23.5" text-anchor="middle">0</text>
<text x="153.0" y="670.5" font-size="23.5" text-anchor="middle">1</text>
<text x="226.2" y="670.5" font-size="23.5" text-anchor="middle">2</text>
<text x="299.4" y="670.5" font-size="23.5" text-anchor="middle">3</text>
<text x="372.6" y="670.5" font-size="23.5" text-anchor="middle">4</text>
<text x="445.8" y="670.5" font-size="23.5" text-anchor="middle">5</text>
<text x="228.0" y="696.2" font-size="23.5" word-spacing="1.1">R / R<tspan font-size="14" dy="4.6">vir</tspan></text>
<text x="335.6" y="49.0" font-size="23.5" letter-spacing="0.25">Log(M<tspan font-size="14" dy="4.6">halo</tspan><tspan font-size="23.5" dy="-4.6">)</tspan></text>
<text x="347.3" y="77.0" font-size="23.5">12</text>
<text x="347.3" y="98.8" font-size="23.5">13</text>
<text x="347.3" y="120.6" font-size="23.5">14</text>
<text x="335.6" y="392.8" font-size="23.5" letter-spacing="0.25">Log(M<tspan font-size="14" dy="4.6">halo</tspan><tspan font-size="23.5" dy="-4.6">)</tspan></text>
<text x="347.3" y="417.0" font-size="23.5">12</text>
<text x="347.3" y="435.9" font-size="23.5">13</text>
<text x="347.3" y="454.7" font-size="23.5">14</text>
<text transform="translate(41.5,154.2) rotate(-90)" font-size="23.5" text-anchor="middle">Log(Temperature [K])</text>
<text transform="translate(22.7,505.75) rotate(-90)" font-size="23.5" text-anchor="middle">Hot fraction</text>
</g>
</svg>
</body></html>
